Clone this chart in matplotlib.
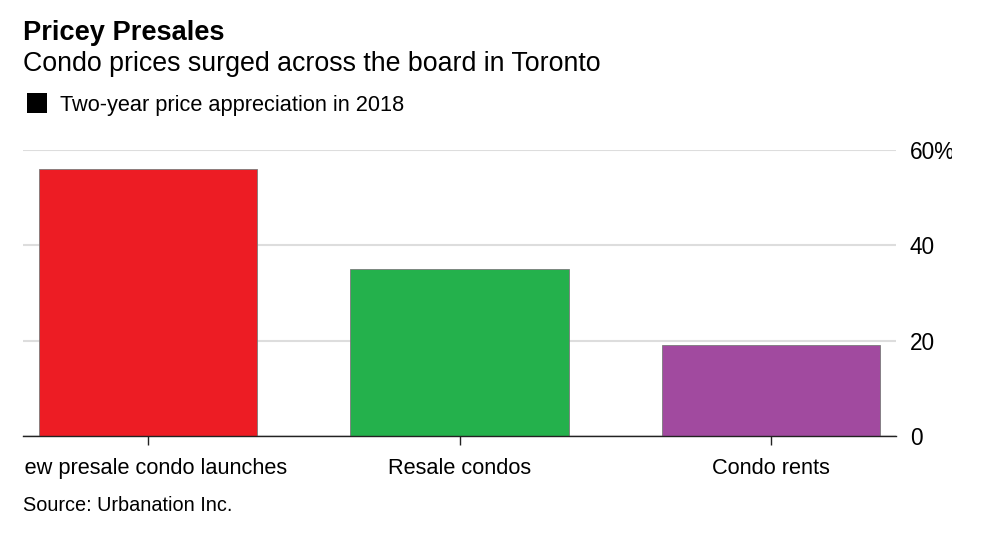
import matplotlib
matplotlib.use("Agg")
import matplotlib.pyplot as plt
from matplotlib.patches import Rectangle
from matplotlib.transforms import Bbox

categories = ["New presale condo launches", "Resale condos", "Condo rents"]
values = [56.0, 35.0, 19.2]
colors = ["#ED1C24", "#24B14C", "#A14A9F"]
yticks = [0, 20, 40, 60]
ytick_labels = ["0", "20", "40", "60%"]
title = "Pricey Presales"
subtitle = "Condo prices surged across the board in Toronto"
legend_label = "Two-year price appreciation in 2018"
source = "Source: Urbanation Inc."

W, H = 985, 535
plt.rcParams['font.family'] = ['Liberation Sans', 'DejaVu Sans']

fig = plt.figure(figsize=(W / 100, H / 100), dpi=100)

def fx(px):
    return px / W

def fy(py):
    return 1 - py / H

ax_left, ax_right, ax_top, ax_bottom = 23, 896, 150.3, 435.9
ax = fig.add_axes([fx(ax_left), fy(ax_bottom), fx(ax_right - ax_left), (ax_bottom - ax_top) / H])

x = list(range(len(categories)))
ax.bar(x, values, width=0.7, color=colors, edgecolor="#7a7a7a", linewidth=0.6, zorder=2)
ax.set_xlim(-0.4, 2.4)
ax.set_ylim(0, 60)

ax.set_axisbelow(True)
ax.yaxis.grid(True, color="#dddddd", linewidth=1.5)
ax.xaxis.grid(False)

for s in ["top", "left", "right"]:
    ax.spines[s].set_visible(False)
ax.spines["bottom"].set_color("#222222")
ax.spines["bottom"].set_linewidth(1.0)
ax.spines["bottom"].set_zorder(3)

ax.yaxis.tick_right()
ax.set_yticks(yticks)
ax.set_yticklabels(ytick_labels)
ax.tick_params(axis="y", length=0, pad=10, labelsize=16.3, labelcolor="#000000")

ax.set_xticks(x)
ax.set_xticklabels(categories)
ax.tick_params(axis="x", length=6.5, width=1.0, color="#222222", pad=9.5,
               labelsize=15.7, labelcolor="#000000")

clip = Bbox.from_extents(23, 0, 952, H)
for lbl in ax.get_xticklabels() + ax.get_yticklabels():
    lbl.set_clip_box(clip)
    lbl.set_clip_on(True)

fig.text(fx(23), fy(40.5), title, fontsize=19.6, fontweight="bold", va="baseline", ha="left")
fig.text(fx(23), fy(70.7), subtitle, fontsize=19.3, va="baseline", ha="left")
fig.patches.append(Rectangle((fx(27), fy(113)), fx(20), 20 / H, transform=fig.transFigure,
                             facecolor="black", edgecolor="none"))
fig.text(fx(60), fy(110.5), legend_label, fontsize=15.7, va="baseline", ha="left")
fig.text(fx(23), fy(511), source, fontsize=14.3, va="baseline", ha="left")

fig.savefig("out.png", dpi=100, facecolor="white")
